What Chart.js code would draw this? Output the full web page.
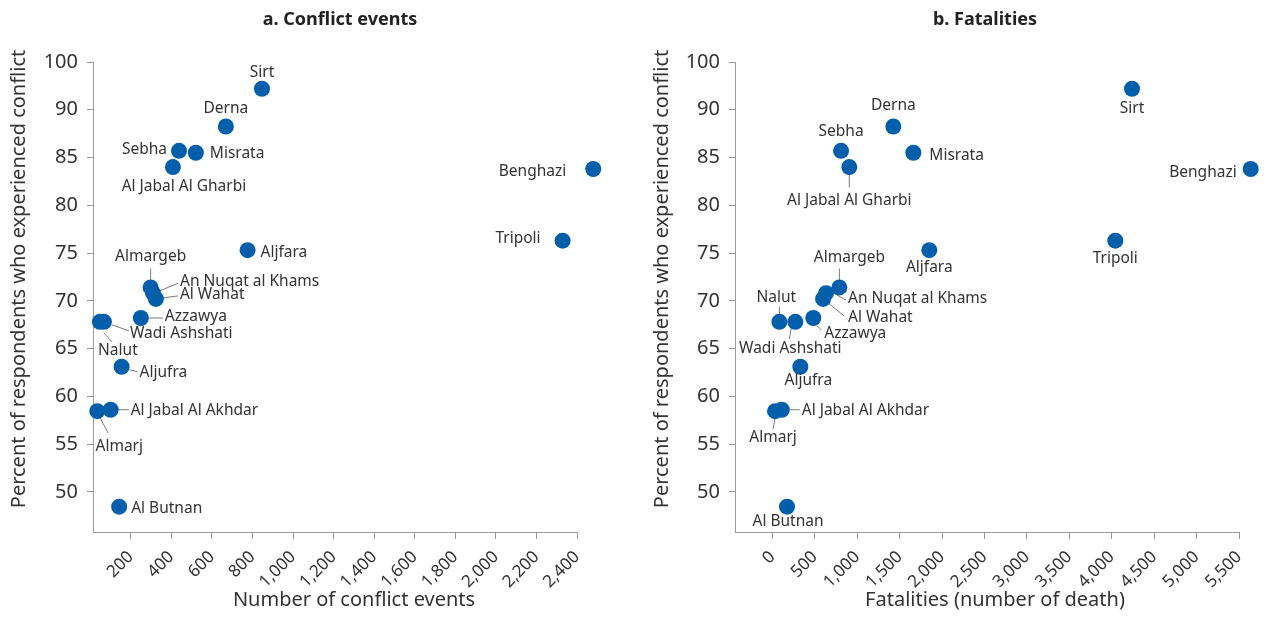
<!DOCTYPE html>
<html>
<head>
<meta charset="utf-8">
<script src="https://cdn.jsdelivr.net/npm/chart.js@4"></script>
<style>
    html, body { margin: 0; padding: 0; background: #fff; }
    #wrap { display: flex; width: 1282px; height: 639px; }
</style>
</head>
<body>
<div id="wrap">
    <canvas id="graficoEventos" width="641" height="639"></canvas>
    <canvas id="graficoMuertes" width="641" height="639"></canvas>
</div>
<script>
// 🔹 Datos
const regiones = ['Sirt', 'Derna', 'Sebha', 'Misrata', 'Al Jabal Al Gharbi', 'Benghazi', 'Tripoli', 'Aljfara',
    'Almargeb', 'An Nuqat al Khams', 'Al Wahat', 'Azzawya', 'Wadi Ashshati', 'Nalut', 'Aljufra',
    'Al Jabal Al Akhdar', 'Almarj', 'Al Butnan'];
const porcentajeConflicto = [92.2, 88.25, 85.7, 85.5, 84.0, 83.8, 76.3, 75.3,
    71.4, 70.8, 70.2, 68.2, 67.8, 67.8, 63.1,
    58.6, 58.45, 48.45];
const eventosConflicto = [847, 669, 438, 521, 408, 2480, 2329, 776,
    298, 310, 324, 250, 68, 48, 155,
    101, 35, 143];
const muertes = [4239, 1426, 810, 1662, 907, 5638, 4042, 1850,
    790, 633, 598, 483, 271, 83, 330,
    111, 32, 173];

const ticksEventos = [200, 400, 600, 800, 1000, 1200, 1400, 1600, 1800, 2000, 2200, 2400];
const ticksMuertes = [0, 500, 1000, 1500, 2000, 2500, 3000, 3500, 4000, 4500, 5000, 5500];
const ticksPorcentaje = [50, 55, 60, 65, 70, 75, 80, 85, 90, 95];
const etiquetasPorcentaje = ['50', '55', '60', '65', '70', '75', '80', '85', '90', '100'];

// 🔹 Posición de cada etiqueta respecto al punto: [dx, dy, align, línea guía]
const posEventos = {
    'Sirt': [0, -16, 'center'],
    'Derna': [0, -18, 'center'],
    'Sebha': [-12, -1, 'right'],
    'Misrata': [14, 1, 'left'],
    'Al Jabal Al Gharbi': [11, 19, 'center'],
    'Benghazi': [-27, 3, 'right'],
    'Tripoli': [-22, -2, 'right'],
    'Aljfara': [13, 2, 'left'],
    'Almargeb': [0, -31, 'center', [0, -6, 0, -19]],
    'An Nuqat al Khams': [27, -12, 'left', [6, -2, 25, -10]],
    'Al Wahat': [24, -4, 'left', [7, -1, 22, -3]],
    'Azzawya': [24, -1, 'left', [8, 0, 22, 0]],
    'Wadi Ashshati': [26, 12, 'left', [8, 3, 25, 9]],
    'Nalut': [18, 29, 'center', [4, 11, 12, 20]],
    'Aljufra': [18, 6, 'left', [8, 3, 16, 5]],
    'Al Jabal Al Akhdar': [20, 1, 'left', [7, 0, 18, 0]],
    'Almarj': [22, 35, 'center', [3, 7, 11, 22]],
    'Al Butnan': [12, 2, 'left']
};
const posMuertes = {
    'Sirt': [0, 20, 'center'],
    'Derna': [0, -21, 'center'],
    'Sebha': [0, -19, 'center'],
    'Misrata': [16, 3, 'left'],
    'Al Jabal Al Gharbi': [0, 33, 'center', [0, 8, 0, 20]],
    'Benghazi': [-14, 4, 'right'],
    'Tripoli': [0, 18, 'center'],
    'Aljfara': [0, 17, 'center'],
    'Almargeb': [10, -30, 'center', [0, -6, 0, -19]],
    'An Nuqat al Khams': [22, 5, 'left', [6, -1, 20, 7]],
    'Al Wahat': [25, 19, 'left', [5, 4, 21, 17]],
    'Azzawya': [11, 16, 'left', [4, 8, 8, 12]],
    'Wadi Ashshati': [-5, 27, 'center', [-4, 6, -6, 17]],
    'Nalut': [-3, -24, 'center', [0, -8, 0, -15]],
    'Aljufra': [8, 14, 'center'],
    'Al Jabal Al Akhdar': [20, 1, 'left', [7, 0, 18, 0]],
    'Almarj': [-2, 26, 'center', [0, 7, -2, 18]],
    'Al Butnan': [1, 15, 'center']
};

const FUENTE = '"Noto Sans", "DejaVu Sans", sans-serif';
const AZUL = '#005eaa';
const TEXTO = '#333333';
const GRIS = '#9a9a9a';
const RADIO = 8;

// ✅ Plugin para etiquetas, líneas guía y títulos
const etiquetasPlugin = {
    id: 'etiquetas',
    beforeDatasetsDraw(chart) {
        const cfg = chart.options.plugins.etiquetas;
        const ctx = chart.ctx;
        const meta = chart.getDatasetMeta(0);
        ctx.save();
        ctx.strokeStyle = '#7a7a7a';
        ctx.lineWidth = 1;
        meta.data.forEach((pt, i) => {
            const pos = cfg.posiciones[regiones[i]];
            if (!pos || !pos[3]) return;
            const l = pos[3];
            ctx.beginPath();
            ctx.moveTo(pt.x + l[0], pt.y + l[1]);
            ctx.lineTo(pt.x + l[2], pt.y + l[3]);
            ctx.stroke();
        });
        ctx.restore();
    },
    afterDatasetsDraw(chart) {
        const cfg = chart.options.plugins.etiquetas;
        const ctx = chart.ctx;
        const meta = chart.getDatasetMeta(0);
        const area = chart.chartArea;
        ctx.save();

        // 🔹 Chart.js no dibuja los puntos fuera del área (Benghazi), se dibujan aquí
        ctx.fillStyle = AZUL;
        meta.data.forEach((pt) => {
            if (pt.x > area.right + RADIO || pt.x < area.left - RADIO) {
                ctx.beginPath();
                ctx.arc(pt.x, pt.y, RADIO, 0, Math.PI * 2);
                ctx.fill();
            }
        });

        ctx.fillStyle = TEXTO;
        ctx.textBaseline = 'middle';
        ctx.font = '15.5px ' + FUENTE;
        meta.data.forEach((pt, i) => {
            const pos = cfg.posiciones[regiones[i]];
            if (!pos) return;
            ctx.textAlign = pos[2];
            ctx.fillText(regiones[i], pt.x + pos[0], pt.y + pos[1]);
        });

        // título del panel
        ctx.textAlign = 'center';
        ctx.font = 'bold 18px ' + FUENTE;
        ctx.fillStyle = '#222';
        ctx.fillText(cfg.titulo, (area.left + area.right) / 2 + cfg.ajusteTitulo, 20);

        // título eje x
        ctx.font = '20px ' + FUENTE;
        ctx.fillStyle = TEXTO;
        ctx.fillText(cfg.tituloX, cfg.xTituloX, 600);

        // título eje y
        ctx.translate(cfg.xTituloY, 279);
        ctx.rotate(-Math.PI / 2);
        ctx.fillText('Percent of respondents who experienced conflict', 0, 0);
        ctx.restore();
    }
};

function crearGrafico(id, valoresX, ticksX, minX, maxX, anchoY, derecha, extra) {
    const ctx = document.getElementById(id).getContext('2d');
    return new Chart(ctx, {
        type: 'scatter',
        data: {
            datasets: [{
                data: valoresX.map((x, i) => ({ x: x, y: porcentajeConflicto[i] })),
                backgroundColor: AZUL,
                borderWidth: 0,
                pointRadius: RADIO,
                pointHoverRadius: RADIO,
                clip: false
            }]
        },
        options: {
            responsive: false,
            animation: false,
            events: [],
            layout: { padding: { top: 62, right: derecha, bottom: 0, left: 0 } },
            plugins: {
                legend: { display: false },
                tooltip: { enabled: false },
                etiquetas: extra
            },
            scales: {
                x: {
                    type: 'linear',
                    min: minX,
                    max: maxX,
                    afterBuildTicks: (scale) => { scale.ticks = ticksX.map(v => ({ value: v })); },
                    afterFit: (scale) => { scale.height = 107; },
                    border: { color: GRIS, width: 1 },
                    grid: { drawOnChartArea: false, color: GRIS, tickLength: 7 },
                    ticks: {
                        minRotation: 45,
                        maxRotation: 45,
                        padding: 8,
                        color: TEXTO,
                        font: { family: FUENTE, size: 17 },
                        callback: (v) => v.toLocaleString('en-US')
                    }
                },
                y: {
                    type: 'linear',
                    min: 45.8,
                    max: 95,
                    afterBuildTicks: (scale) => { scale.ticks = ticksPorcentaje.map(v => ({ value: v })); },
                    afterFit: (scale) => { scale.width = anchoY; },
                    border: { color: GRIS, width: 1 },
                    grid: { drawOnChartArea: false, color: GRIS, tickLength: 6 },
                    ticks: {
                        padding: 9,
                        color: TEXTO,
                        font: { family: FUENTE, size: 20 },
                        callback: (v) => etiquetasPorcentaje[ticksPorcentaje.indexOf(v)]
                    }
                }
            }
        },
        plugins: [etiquetasPlugin]
    });
}

document.addEventListener('DOMContentLoaded', () => {
    crearGrafico('graficoEventos', eventosConflicto, ticksEventos, 14, 2400, 93, 64, {
        posiciones: posEventos,
        titulo: 'a. Conflict events',
        ajusteTitulo: 5,
        tituloX: 'Number of conflict events',
        xTituloX: 354,
        xTituloY: 19
    });
    crearGrafico('graficoMuertes', muertes, ticksMuertes, -440, 5500, 94, 43, {
        posiciones: posMuertes,
        titulo: 'b. Fatalities',
        ajusteTitulo: -2,
        tituloX: 'Fatalities (number of death)',
        xTituloX: 354,
        xTituloY: 21
    });
});
</script>
</body>
</html>
